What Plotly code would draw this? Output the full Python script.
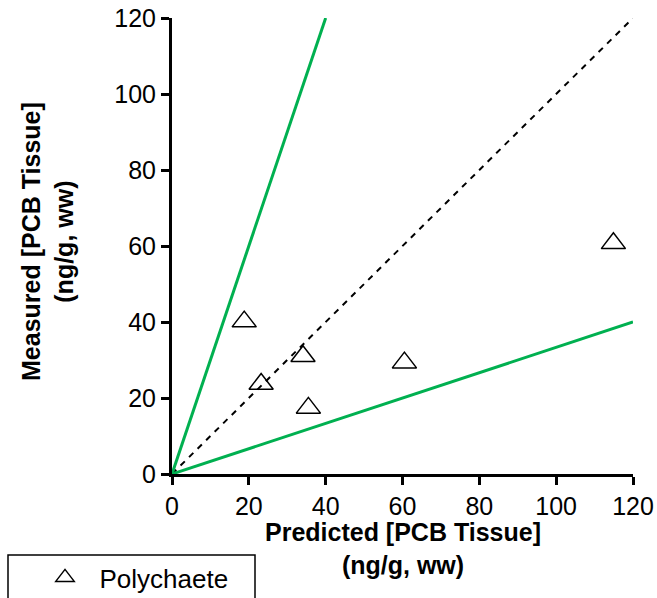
import plotly.graph_objects as go

# Data
pred = [18.8, 23.2, 34.1, 35.5, 60.5, 114.9]
meas = [40.1, 23.7, 31.0, 17.4, 29.3, 60.7]
series_name = "Polychaete"

one_x = [0, 120]
one_y = [0, 120]
upper_x = [0, 40]
upper_y = [0, 120]
lower_x = [0, 120]
lower_y = [0, 40]

tick_vals = [0, 20, 40, 60, 80, 100, 120]

W, H = 657, 598
L, T = 172, 18
PR, PB = 633, 474
R, B = W - PR, H - PB
pw, ph = PR - L, PB - T

green = "#00B050"
font = "Arial, Liberation Sans, sans-serif"

fig = go.Figure()
fig.add_trace(go.Scatter(x=one_x, y=one_y, mode="lines", showlegend=False,
                         line=dict(color="black", width=2, dash="6px,6px")))
fig.add_trace(go.Scatter(x=upper_x, y=upper_y, mode="lines", showlegend=False,
                         line=dict(color=green, width=3)))
fig.add_trace(go.Scatter(x=lower_x, y=lower_y, mode="lines", showlegend=False,
                         line=dict(color=green, width=3)))
fig.add_trace(go.Scatter(x=pred, y=meas, mode="markers",
                         name="\u00a0\u00a0" + series_name,
                         marker=dict(symbol="triangle-up-open", size=21,
                                     color="black", line=dict(width=1.5)),
                         cliponaxis=False))

axis_common = dict(range=[0, 120], tickvals=tick_vals, showgrid=False, zeroline=False,
                   showline=True, linecolor="black", linewidth=3,
                   ticks="outside", ticklen=8, tickwidth=3, tickcolor="black",
                   tickfont=dict(family=font, size=25, color="black"),
                   ticklabeloverflow="allow",
                   fixedrange=True)

def px_x(x):  # window x -> paper
    return (x - L) / pw

def px_y(y):  # window y -> paper
    return (PB - y) / ph

fig.update_layout(
    width=W, height=H,
    margin=dict(l=L, r=R, t=T, b=B, autoexpand=False),
    paper_bgcolor="white", plot_bgcolor="white",
    xaxis=dict(**axis_common),
    yaxis=dict(**axis_common),
    showlegend=True,
    legend=dict(x=px_x(45), y=px_y(554), xanchor="left", yanchor="top",
                bgcolor="rgba(0,0,0,0)", borderwidth=0,
                font=dict(family=font, size=26, color="black")),
    shapes=[dict(type="rect", xref="paper", yref="paper",
                 x0=px_x(8), x1=px_x(255),
                 y0=px_y(555), y1=px_y(620),
                 line=dict(color="black", width=1.5), fillcolor="rgba(0,0,0,0)")],
    annotations=[
        dict(text="<b>Predicted [PCB Tissue]<br>(ng/g, ww)</b>", xref="paper", yref="paper",
             x=0.5, y=0, xanchor="center", yanchor="middle", yshift=-74.5,
             showarrow=False, font=dict(family=font, size=25, color="black")),
        dict(text="<b>Measured [PCB Tissue]<br>(ng/g, ww)</b>", xref="paper", yref="paper",
             x=0, y=0.5, xanchor="center", yanchor="middle", xshift=-125, yshift=4,
             textangle=-90, showarrow=False, font=dict(family=font, size=25, color="black")),
    ],
)

fig.write_html(
    "out.html",
    config={"displayModeBar": False},
    post_script="document.body.style.margin='0';document.body.style.overflow='hidden';",
)
